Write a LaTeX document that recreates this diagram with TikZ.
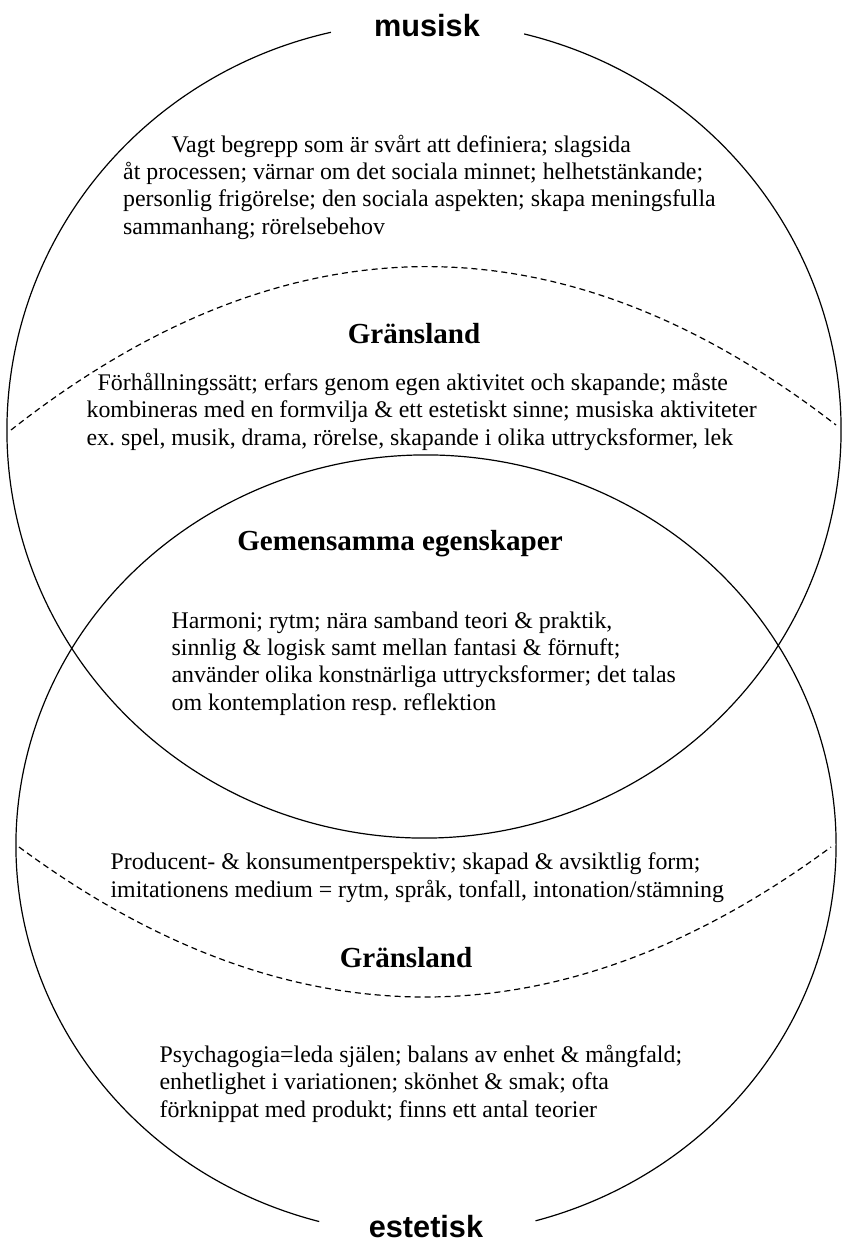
\documentclass[tikz,border=0pt]{standalone}
\usepackage{fontspec}
\setmainfont{Liberation Serif}
\newfontfamily\polefont{Liberation Sans}
\frenchspacing

\begin{document}
\begin{tikzpicture}[x=0.75pt, y=-0.75pt, line width=0.9pt,
    body/.style={font=\fontsize{17.9}{20.3}\selectfont, align=left, anchor=base west, inner sep=0pt},
    head/.style={font=\fontsize{21.8}{24}\selectfont\bfseries, anchor=base, inner sep=0pt},
    pole/.style={font=\polefont\bfseries\fontsize{23}{26}\selectfont, anchor=base, inner sep=0pt},
    border/.style={dashed, dash pattern=on 4.5pt off 3pt}]
  \useasboundingbox (0,0) rectangle (843,1241);

  \coordinate (ctop) at (424,430);
  \coordinate (cbot) at (426,845);

  % the two fields, open where the names sit
  \draw (ctop) ++(-76.1:417 and 408) arc[start angle=-76.1, end angle=257.1, x radius=417, y radius=408];
  \draw (cbot) ++(105.1:410 and 390) arc[start angle=105.1, end angle=434.5, x radius=410, y radius=390];

  \node[pole] at (427,37) (musisk) {musisk};
  \node[pole] at (426,1237) (estetisk) {estetisk};

  % borderlands
  \coordinate (gr1l) at (11,430);
  \coordinate (gr1r) at (836,425);
  \coordinate (gr2l) at (19,847);
  \coordinate (gr2r) at (831,847);
  \draw[border] (gr1l) .. controls (286,214) and (561,212) .. (gr1r);
  \draw[border] (gr2l) .. controls (290,1047) and (560,1047) .. (gr2r);

  % texts, placed by the baseline of their last line
  \node[body] at (122.6,234) (mustext) {\hspace*{36.3pt}Vagt begrepp som är svårt att definiera; slagsida\\
    åt processen; värnar om det sociala minnet; helhetstänkande;\\
    personlig frigörelse; den sociala aspekten; skapa meningsfulla\\
    sammanhang; rörelsebehov};

  \node[head] at (414,343) (gr1) {Gränsland};
  \node[body] at (86,445) (gr1text) {\hspace*{8.3pt}Förhållningssätt; erfars genom egen aktivitet och skapande; måste\\
    kombineras med en formvilja \& ett estetiskt sinne; musiska aktiviteter\\
    ex. spel, musik, drama, rörelse, skapande i olika uttrycksformer, lek};

  \node[head] at (400,550) (common) {Gemensamma egenskaper};
  \node[body] at (171,710) (commontext) {Harmoni; rytm; nära samband teori \& praktik,\\
    sinnlig \& logisk samt mellan fantasi \& förnuft;\\
    använder olika konstnärliga uttrycksformer; det talas\\
    om kontemplation resp. reflektion};

  \node[body] at (110,897) (gr2text) {Producent- \& konsumentperspektiv; skapad \& avsiktlig form;\\
    imitationens medium = rytm, språk, tonfall, intonation/stämning};
  \node[head] at (406,967) (gr2) {Gränsland};

  \node[body] at (159,1117) (esttext) {Psychagogia=leda själen; balans av enhet \& mångfald;\\
    enhetlighet i variationen; skönhet \& smak; ofta\\
    förknippat med produkt; finns ett antal teorier};
\end{tikzpicture}
\end{document}
